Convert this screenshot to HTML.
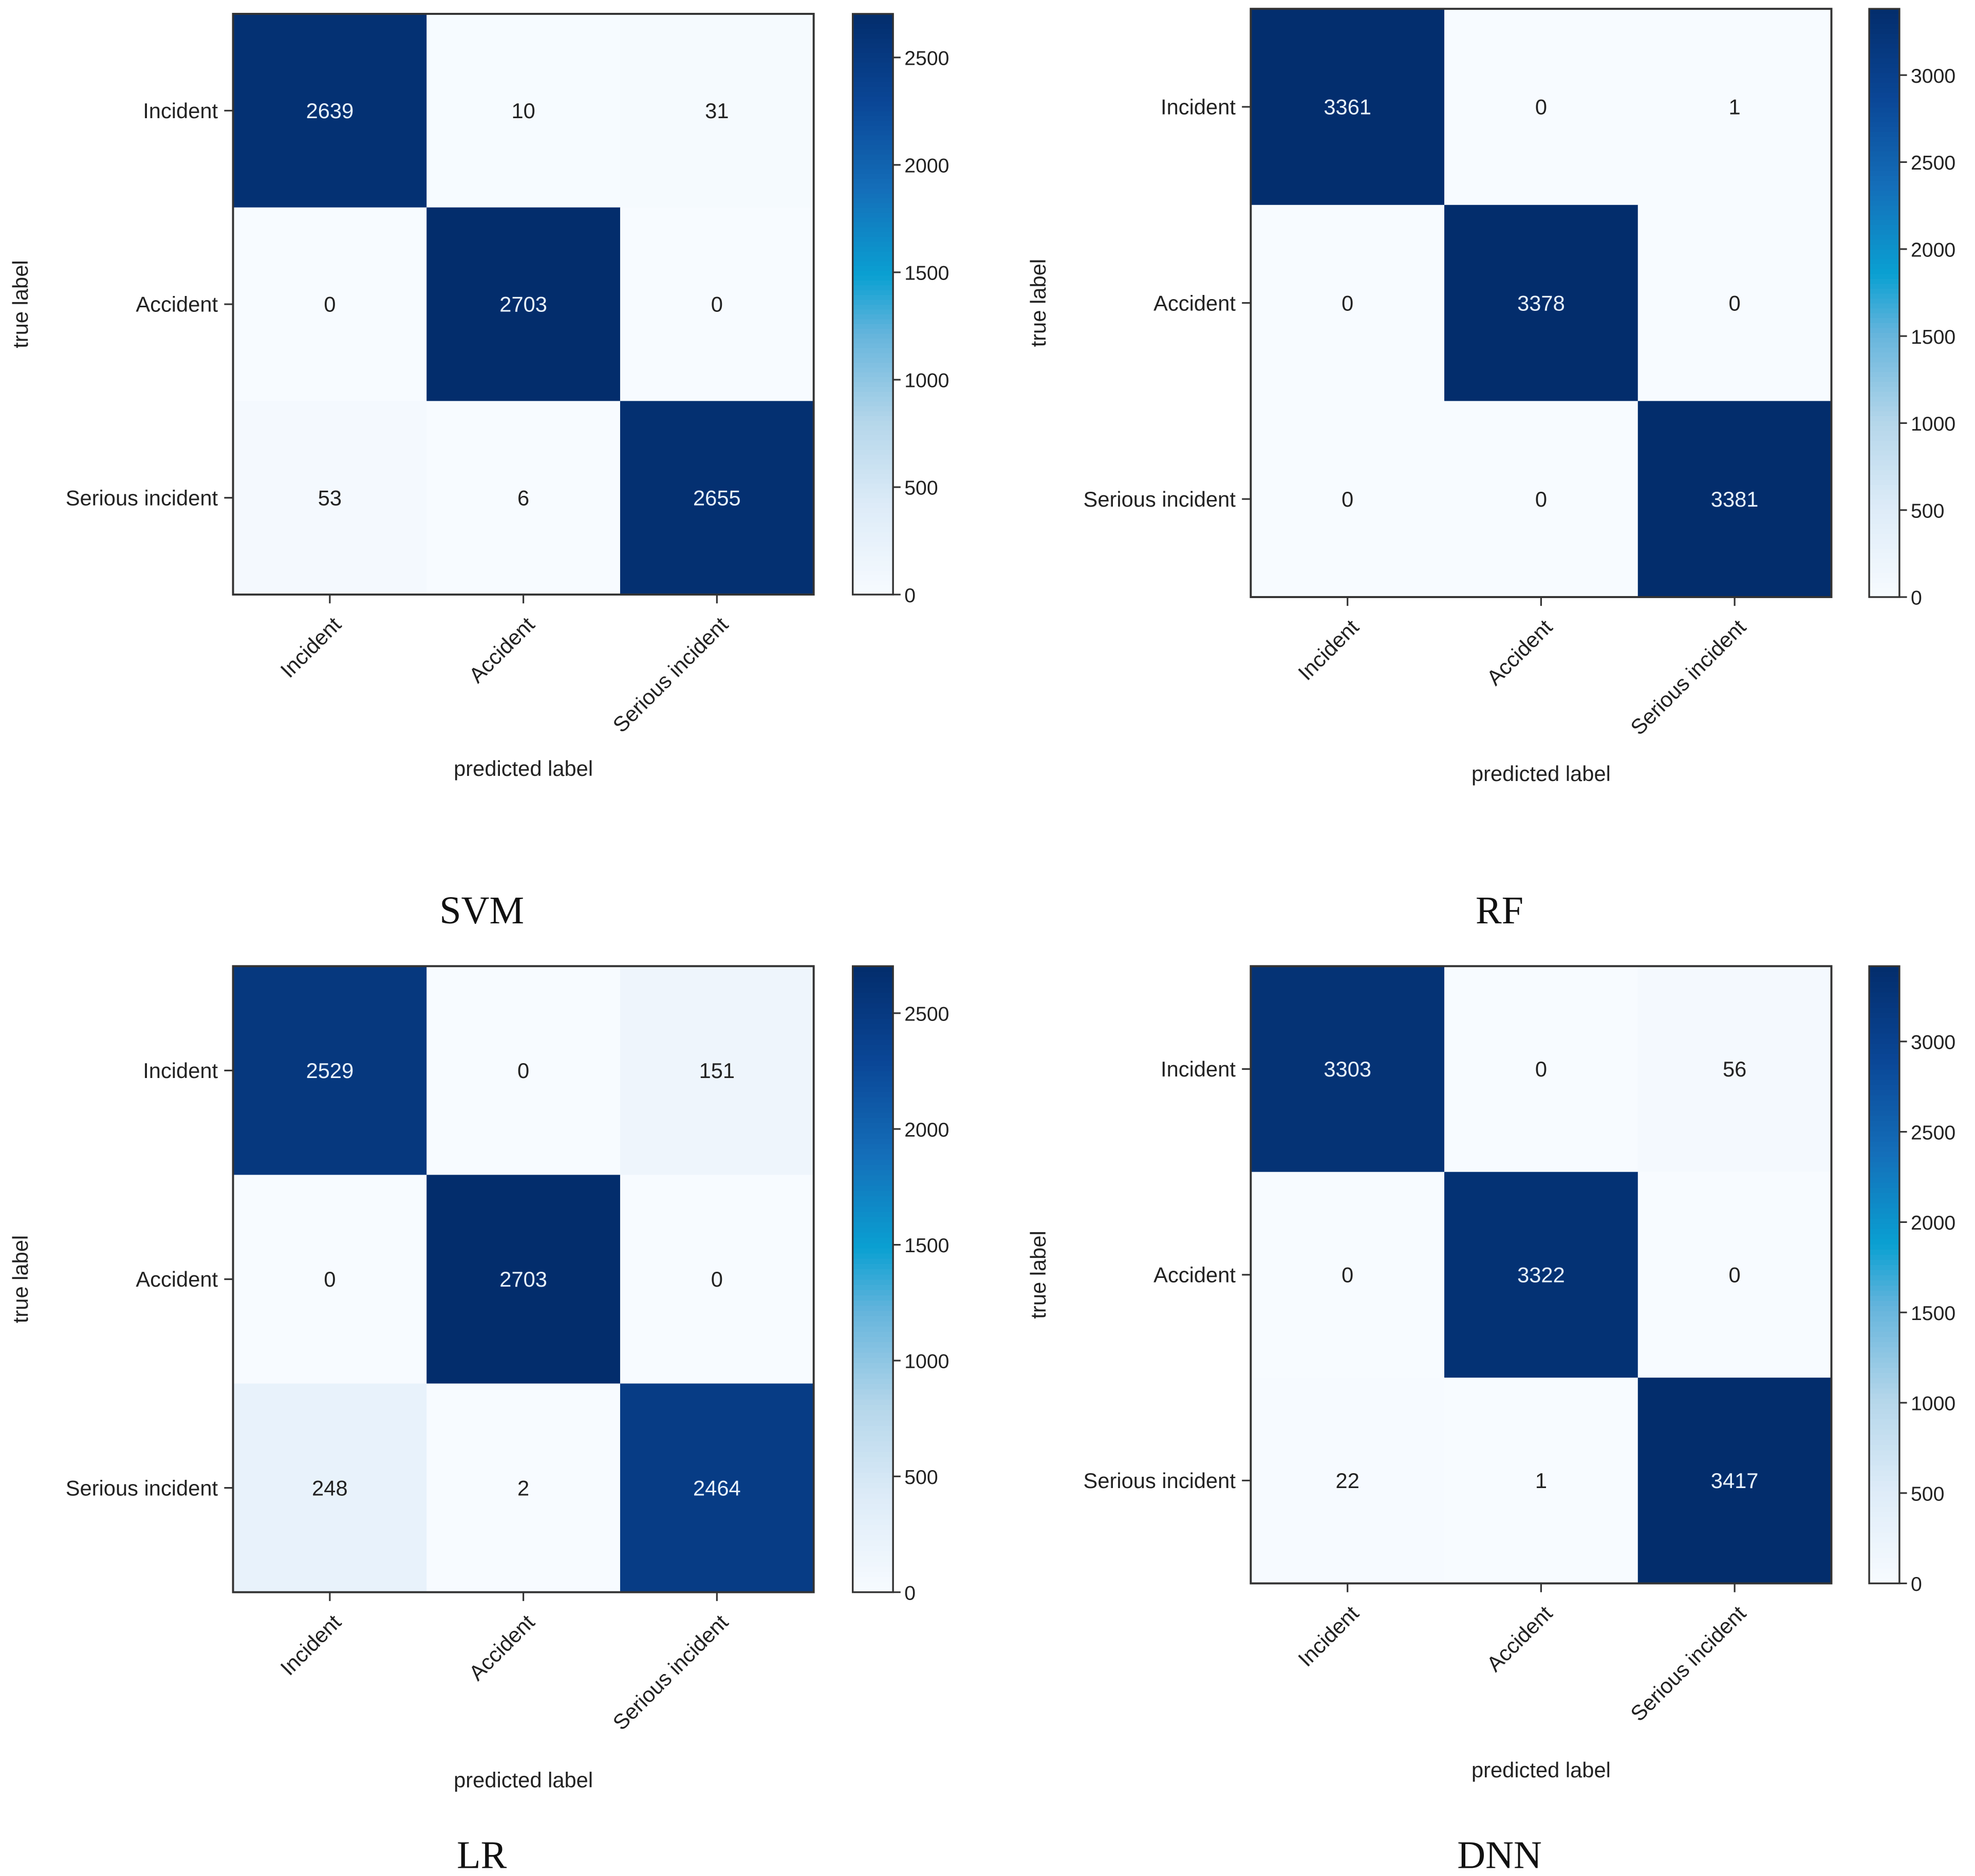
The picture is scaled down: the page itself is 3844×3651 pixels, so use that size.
<!DOCTYPE html>
<html><head><meta charset="utf-8">
<style>html,body{margin:0;padding:0;background:#fff;}svg{display:block;}</style>
</head><body>
<svg id="fig" xmlns="http://www.w3.org/2000/svg" width="3844" height="3651" viewBox="0 0 1568 1489.3">
<rect x="0" y="0" width="1568" height="1489.3" fill="#fff"/>
</svg>
<script>
const classLabels = ["Incident", "Accident", "Serious incident"];
const svmValues = [[2639, 10, 31], [0, 2703, 0], [53, 6, 2655]];
const rfValues = [[3361, 0, 1], [0, 3378, 0], [0, 0, 3381]];
const lrValues = [[2529, 0, 151], [0, 2703, 0], [248, 2, 2464]];
const dnnValues = [[3303, 0, 56], [0, 3322, 0], [22, 1, 3417]];
const svmTicks = [0, 500, 1000, 1500, 2000, 2500];
const rfTicks = [0, 500, 1000, 1500, 2000, 2500, 3000];
const lrTicks = [0, 500, 1000, 1500, 2000, 2500];
const dnnTicks = [0, 500, 1000, 1500, 2000, 2500, 3000];
const panelTitles = ["SVM", "RF", "LR", "DNN"];

const NS = "http://www.w3.org/2000/svg";
const svg = document.getElementById("fig");
function mk(tag, attrs, parent) {
  const e = document.createElementNS(NS, tag);
  for (const k in attrs) e.setAttribute(k, attrs[k]);
  (parent || svg).appendChild(e);
  return e;
}
const stops = [[0,[247,251,255]],[0.15,[222,236,248]],[0.3,[180,214,234]],[0.45,[100,180,220]],[0.55,[10,160,210]],[0.7,[20,110,185]],[0.85,[10,70,150]],[1,[3,45,108]]];
function cmap(t) {
  t = Math.max(0, Math.min(1, t));
  for (let i = 1; i < stops.length; i++) {
    if (t <= stops[i][0]) {
      const a = stops[i-1], b = stops[i], f = (t - a[0]) / (b[0] - a[0]);
      const c = a[1].map((v, j) => Math.round(v + (b[1][j] - v) * f));
      return "rgb(" + c.join(",") + ")";
    }
  }
  return "rgb(3,45,108)";
}
const font = "Liberation Sans, DejaVu Sans, sans-serif";

function panel(id, values, ticks, title, ax, cb, xlabY, titleY) {
  const g = mk("g", {});
  
  
  const vmax = Math.max(...values.flat());
  const cw = (ax.x1 - ax.x0) / 3, ch = (ax.y1 - ax.y0) / 3;
  const xc = j => ax.x0 + cw * (j + 0.5);
  const yc = i => ax.y0 + ch * (i + 0.5);
  values.forEach((row, i) => row.forEach((v, j) => {
    const r = mk("rect", {x: ax.x0 + cw * j, y: ax.y0 + ch * i, width: cw + 0.3, height: ch + 0.3, fill: cmap(v / vmax)}, g);
    
    
    const t = mk("text", {x: xc(j), y: yc(i) + 6, "text-anchor": "middle", "font-size": 17, "font-family": font, fill: v > vmax / 2 ? "#e8f2fb" : "#222"}, g);
    t.textContent = v;
    
    
  }));
  const fr = mk("rect", {x: ax.x0, y: ax.y0, width: ax.x1 - ax.x0, height: ax.y1 - ax.y0, fill: "none", stroke: "#333", "stroke-width": 1.6}, g);
  
  
  classLabels.forEach((lab, i) => {
    mk("line", {x1: ax.x0 - 7, x2: ax.x0, y1: yc(i), y2: yc(i), stroke: "#333", "stroke-width": 1.3}, g);
    const t = mk("text", {x: ax.x0 - 12, y: yc(i) + 6, "text-anchor": "end", "font-size": 17, "font-family": font, fill: "#222"}, g);
    t.textContent = lab;
    
    
    mk("line", {x1: xc(i), x2: xc(i), y1: ax.y1, y2: ax.y1 + 7, stroke: "#333", "stroke-width": 1.3}, g);
    const tx = xc(i) + 10, ty = ax.y1 + 25;
    const x2 = mk("text", {x: tx, y: ty, "text-anchor": "end", "font-size": 17, "font-family": font, fill: "#222", transform: "rotate(-45 " + tx + " " + ty + ")"}, g);
    x2.textContent = lab;
    
    
  });
  const yt = mk("text", {x: 0, y: 0, "text-anchor": "middle", "font-size": 17, "font-family": font, fill: "#222", transform: "translate(" + (ax.x0 - 163) + "," + ((ax.y0 + ax.y1) / 2) + ") rotate(-90)"}, g);
  yt.textContent = "true label";
  
  
  const xt = mk("text", {x: (ax.x0 + ax.x1) / 2, y: xlabY, "text-anchor": "middle", "font-size": 17, "font-family": font, fill: "#222"}, g);
  xt.textContent = "predicted label";
  
  
  const cby = v => ax.y1 - (v / vmax) * (ax.y1 - ax.y0);
  const N = 120;
  for (let k = 0; k < N; k++) {
    const h = (ax.y1 - ax.y0) / N;
    mk("rect", {x: cb.x0, y: ax.y1 - (k + 1) * h, width: cb.x1 - cb.x0, height: h + 0.4, fill: cmap((k + 0.5) / N)}, g);
  }
  const cbf = mk("rect", {x: cb.x0, y: ax.y0, width: cb.x1 - cb.x0, height: ax.y1 - ax.y0, fill: "none", stroke: "#333", "stroke-width": 1.4}, g);
  
  
  ticks.forEach(v => {
    mk("line", {x1: cb.x1, x2: cb.x1 + 6, y1: cby(v), y2: cby(v), stroke: "#333", "stroke-width": 1.3}, g);
    const t = mk("text", {x: cb.x1 + 9, y: cby(v) + 6, "font-size": 16, "font-family": font, fill: "#222"}, g);
    t.textContent = v;
    
    
  });
  const tt = mk("text", {x: (ax.x0 + ax.x1) / 2 - 33, y: titleY, "text-anchor": "middle", "font-size": 31, "font-family": "Liberation Serif, serif", fill: "#111"}, g);
  tt.textContent = title;
  
  
}
panel("svm", svmValues, svmTicks, panelTitles[0], {x0:185, x1:646, y0:11, y1:472}, {x0:677, x1:709}, 616, 733);
panel("rf", rfValues, rfTicks, panelTitles[1], {x0:993, x1:1454, y0:7, y1:474}, {x0:1484, x1:1508}, 620, 733);
panel("lr", lrValues, lrTicks, panelTitles[2], {x0:185, x1:646, y0:767, y1:1264}, {x0:677, x1:709}, 1419, 1483);
panel("dnn", dnnValues, dnnTicks, panelTitles[3], {x0:993, x1:1454, y0:767, y1:1257}, {x0:1484, x1:1508}, 1411, 1483);
</script>
</body></html>
